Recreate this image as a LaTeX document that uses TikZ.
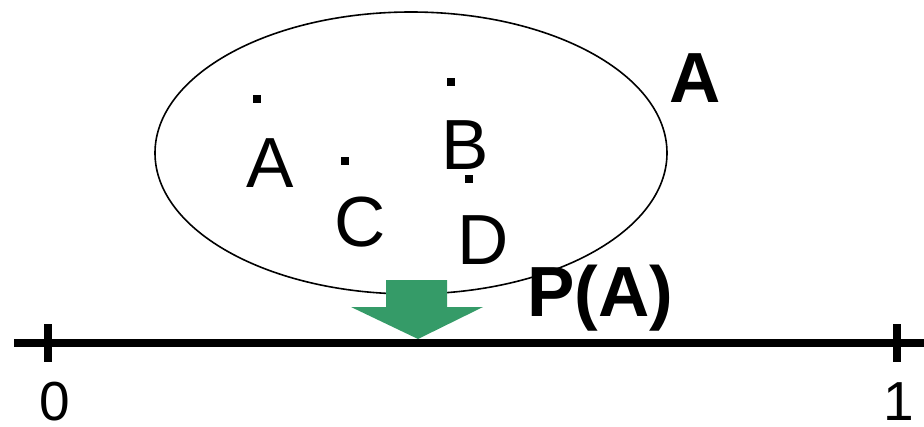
\documentclass[tikz,border=0pt]{standalone}
\usepackage{fontspec}
\setmainfont{Liberation Sans}
\usetikzlibrary{shapes.geometric}
\definecolor{arrowgreen}{RGB}{53,155,104}

\begin{document}
\begin{tikzpicture}[x=1pt,y=-1pt,
  dot/.style={fill=black,minimum size=8pt,inner sep=0pt},
  lab/.style={font=\fontsize{71}{80}\selectfont,inner sep=0pt},
  blab/.style={lab,font=\fontsize{71}{80}\selectfont\bfseries},
  num/.style={font=\fontsize{55}{64}\selectfont,inner sep=0pt,anchor=base},
  axis/.style={draw=black,line width=8pt},
  arr/.style={fill=arrowgreen}]
  \useasboundingbox (0,0) rectangle (924,426);
  % the set and its points
  \node[draw,ellipse,line width=1.6pt,minimum width=512pt,minimum height=282pt,inner sep=0pt] (set) at (411,153) {};
  \foreach \name/\xx/\yy in {pa/257/99,pb/451/82,pc/345/161,pd/469/179}
    \node[dot] (\name) at (\xx,\yy) {};
  \node[lab] (la) at (270,163) {A};
  \node[lab] (lb) at (465,145) {B};
  \node[lab] (lc) at (360,222) {C};
  \node[lab] (ld) at (483,240) {D};
  \node[blab] (setname) at (695,78) {A};
  % map onto the unit interval
  \fill[arr] (386,280) -- (447,280) -- (447,307) -- (483,307) -- (418,339)
    -- (351,307) -- (386,307) -- cycle;
  \node[blab,anchor=base] (pofa) at (600,316) {P(A)};
  % unit interval
  \coordinate (lft) at (14,343);
  \coordinate (rgt) at (924,343);
  \draw[axis] (lft) -- (rgt);
  \foreach \name/\xx in {zero/48,one/897} {
    \coordinate (\name) at (\xx,343);
    \draw[axis] ([yshift=19pt]\name) -- ([yshift=-19pt]\name);
  }
  \node[num] (lzero) at (55,420) {0};
  \node[num] (lone) at (899,420) {1};
\end{tikzpicture}
\end{document}
